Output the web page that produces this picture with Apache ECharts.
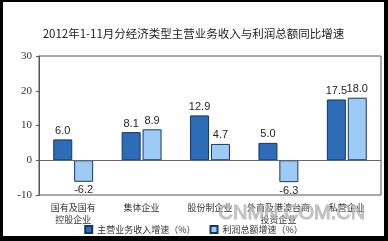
<!DOCTYPE html>
<html>
<head>
<meta charset="utf-8">
<script src="https://cdn.jsdelivr.net/npm/echarts@6/dist/echarts.min.js"></script>
<style>
html,body{margin:0;padding:0;background:#000;}
#frame{position:absolute;left:0;top:0;width:388px;height:241px;background:#000;}
#c{position:absolute;left:3px;top:2px;width:381px;height:234px;background:#fff;}
</style>
</head>
<body>
<div id="frame"></div>
<div id="c"></div>
<script>
var title = '2012年1-11月分经济类型主营业务收入与利润总额同比增速';
var categories = ['国有及国有\n控股企业', '集体企业', '股份制企业', '外商及港澳台商\n投资企业', '私营企业'];
var seriesNames = ['主营业务收入增速（%）', '利润总额增速（%）'];
var revenueGrowth = [6.0, 8.1, 12.9, 5.0, 17.5];
var profitGrowth = [-6.2, 8.9, 4.7, -6.3, 18.0];
var yTicks = {min: -10, max: 30, interval: 10};

function items(arr) {
  return arr.map(function (v) {
    return {value: v, label: {position: v < 0 ? 'bottom' : 'top'}};
  });
}

var chart = echarts.init(document.getElementById('c'));
chart.setOption({
  animation: false,
  title: {
    text: title, left: 'center', top: 21,
    textStyle: {fontSize: 11.5, fontWeight: 'normal', color: '#222', fontFamily: 'Noto Sans CJK SC'}
  },
  legend: {
    top: 218, left: 'center', itemWidth: 7, itemHeight: 7, itemGap: 14,
    icon: 'rect',
    textStyle: {fontSize: 9, color: '#333', fontFamily: 'Noto Sans CJK SC'}
  },
  grid: {left: 36, top: 54, right: 3, bottom: 41, show: true, borderColor: '#555', borderWidth: 1, backgroundColor: 'transparent', outerBoundsMode: 'none'},
  xAxis: {
    type: 'category', data: categories,
    axisLine: {show: false}, axisTick: {show: false},
    axisLabel: {fontSize: 9, color: '#333', margin: 7, lineHeight: 12, interval: 0, fontFamily: 'Noto Sans CJK SC'}
  },
  yAxis: {
    type: 'value', min: yTicks.min, max: yTicks.max, interval: yTicks.interval,
    axisLine: {show: true, lineStyle: {color: '#555'}},
    axisTick: {show: true, length: 3, lineStyle: {color: '#555'}},
    splitLine: {show: false},
    axisLabel: {fontSize: 11, color: '#333', margin: 7, fontFamily: 'Liberation Serif'}
  },
  series: [
    {
      name: seriesNames[0], type: 'bar', data: items(revenueGrowth),
      barWidth: 19, barGap: '10%',
      itemStyle: {color: '#2d6cb6', borderColor: '#153764', borderWidth: 1},
      label: {show: true, distance: 3, fontSize: 11, color: '#222', fontFamily: 'Liberation Sans',
        formatter: function (p) { return p.value.toFixed(1); }},
      markLine: {
        silent: true, symbol: 'none', label: {show: false},
        lineStyle: {color: '#666', width: 1, type: 'solid'},
        data: [{yAxis: 0}]
      }
    },
    {
      name: seriesNames[1], type: 'bar', data: items(profitGrowth),
      barWidth: 19,
      itemStyle: {color: '#9dcbf6', borderColor: '#153764', borderWidth: 1},
      label: {show: true, distance: 3, fontSize: 11, color: '#222', fontFamily: 'Liberation Sans',
        formatter: function (p) { return p.value.toFixed(1); }}
    }
  ],
  graphic: [{
    type: 'text', left: 215, top: 201, silent: true, z: 100,
    style: {text: 'CNMN.COM.CN', fontSize: 20, fontFamily: 'Liberation Sans', fill: 'rgba(190,190,190,0.8)', stroke: 'rgba(140,140,140,0.6)', lineWidth: 1}
  }]
});
</script>
</body>
</html>
